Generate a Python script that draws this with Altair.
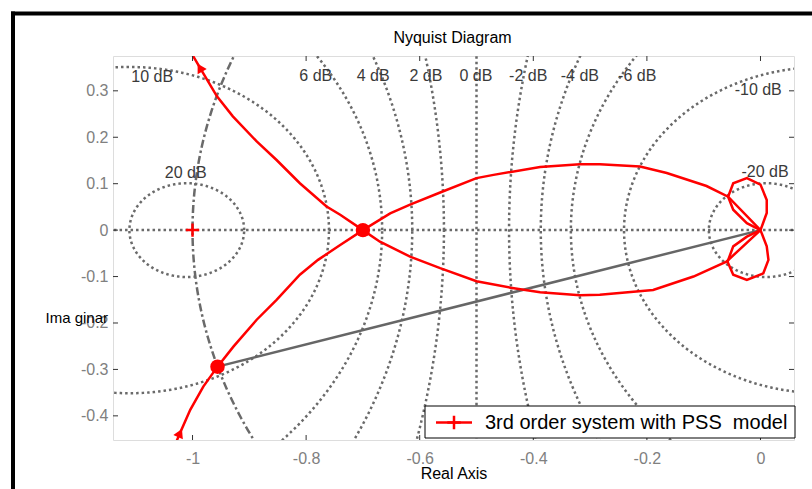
import altair as alt
import numpy as np
import pandas as pd

FONT = "Liberation Sans"

# ---- grid (M-circles) levels and their labels ----
grid_db = [20, 10, 6, 4, 2, 0, -2, -4, -6, -10, -20]
label_text = ["20 dB", "10 dB", "6 dB", "4 dB", "2 dB", "0 dB", "-2 dB", "-4 dB", "-6 dB", "-10 dB", "-20 dB"]
label_x = [-1.012, -1.071, -0.783, -0.682, -0.589, -0.501, -0.409, -0.318, -0.217, -0.004, 0.008]
label_y = [0.123, 0.330, 0.332, 0.332, 0.332, 0.332, 0.332, 0.332, 0.332, 0.302, 0.126]

# ---- Nyquist curve ----
# branch coming up from the bottom, through both dots, to the origin
up_x = [-1.030, -1.022, -1.004, -0.981, -0.956, -0.928, -0.887, -0.852, -0.811, -0.779, -0.740, -0.700,
        -0.652, -0.617, -0.564, -0.500, -0.470, -0.388, -0.318, -0.283, -0.212, -0.165, -0.095, -0.057, 0.0]
up_y = [-0.460, -0.437, -0.387, -0.337, -0.294, -0.251, -0.193, -0.150, -0.096, -0.064, -0.032, 0.000,
        0.036, 0.055, 0.081, 0.112, 0.119, 0.136, 0.142, 0.142, 0.137, 0.123, 0.095, 0.072, 0.0]
# branch from the top, through the -0.7 crossing, lower right, to the origin
dn_x = [-1.003, -0.999, -0.987, -0.957, -0.929, -0.887, -0.852, -0.811, -0.764, -0.740, -0.700,
        -0.670, -0.617, -0.564, -0.500, -0.440, -0.388, -0.318, -0.283, -0.189, -0.118, -0.060, 0.0]
dn_y = [0.385, 0.375, 0.350, 0.288, 0.245, 0.191, 0.151, 0.101, 0.051, 0.033, 0.000,
        -0.025, -0.057, -0.082, -0.110, -0.124, -0.134, -0.140, -0.139, -0.129, -0.100, -0.068, 0.0]
# small loops at the origin
loopu_x = [0.0, 0.011, 0.011, 0.0, -0.024, -0.048, -0.057, -0.048, -0.024, 0.0]
loopu_y = [0.0, 0.037, 0.065, 0.098, 0.112, 0.101, 0.072, 0.044, 0.015, 0.0]
loopd_x = [0.0, 0.011, 0.014, 0.005, -0.024, -0.048, -0.058, -0.048, -0.024, 0.0]
loopd_y = [0.0, -0.035, -0.064, -0.093, -0.107, -0.096, -0.068, -0.035, -0.014, 0.0]

# marked points
dots_x = [-0.700, -0.956]
dots_y = [0.000, -0.294]
ray_x = [-0.956, 0.0]
ray_y = [-0.294, 0.0]
crit_x = [-1.0]
crit_y = [0.0]
arrow_top = (-0.987, 0.350)
arrow_bot = (-1.022, -0.437)

xticks = [-1, -0.8, -0.6, -0.4, -0.2, 0]
yticks = [-0.4, -0.3, -0.2, -0.1, 0, 0.1, 0.2, 0.3]
legend_label = "3rd order system with PSS\u00a0 model"
title_text = "Nyquist Diagram"

# ---- build tables ----
rows = []
t = np.linspace(0, 2 * np.pi, 721)
for db in grid_db:
    if db == 0:
        for i, yy in enumerate([-2.0, 2.0]):
            rows.append({"db": db, "i": i, "x": -0.5, "y": yy})
    else:
        M = 10 ** (db / 20.0)
        c = -M * M / (M * M - 1)
        r = abs(M / (M * M - 1))
        for i, tt in enumerate(t):
            rows.append({"db": db, "i": i, "x": c + r * np.cos(tt), "y": r * np.sin(tt)})
circles = pd.DataFrame(rows)
realaxis = pd.DataFrame({"x": [-2.0, 1.0], "y": [0.0, 0.0], "i": [0, 1]})
unit = pd.DataFrame({"x": np.cos(t), "y": np.sin(t), "i": np.arange(len(t))})
labels = pd.DataFrame({"x": label_x, "y": label_y, "t": label_text})

seg_rows = []
for name, xs, ys in [("up", up_x, up_y), ("dn", dn_x, dn_y), ("lu", loopu_x, loopu_y), ("ld", loopd_x, loopd_y)]:
    for i, (a, b) in enumerate(zip(xs, ys)):
        seg_rows.append({"seg": name, "i": i, "x": a, "y": b})
curve = pd.DataFrame(seg_rows)

W, H = 681, 384
xs = alt.Scale(domain=[-1.14, 0.059], nice=False, zero=False)
ys = alt.Scale(domain=[-0.452, 0.375], nice=False, zero=False)

X = alt.X("x:Q", scale=xs, axis=alt.Axis(values=xticks, labelExpr="'' + datum.value", tickSize=0,
                                          labelPadding=10, labelFont=FONT, labelFontSize=16,
                                          labelColor="#808080", grid=False, domain=False,
                                          title="Real Axis", titleFont=FONT, titleFontSize=16,
                                          titleFontWeight="normal", titleColor="black",
                                          titleY=38, titleBaseline="alphabetic"))
Y = alt.Y("y:Q", scale=ys, axis=alt.Axis(values=yticks, labelExpr="'' + datum.value", tickSize=0,
                                          labelPadding=5, labelFont=FONT, labelFontSize=16,
                                          labelColor="#808080", grid=False, domain=False,
                                          title="Ima ginar", titleFont=FONT, titleFontSize=15,
                                          titleFontWeight="normal", titleColor="black", titleAngle=0,
                                          titleAlign="left", titleBaseline="middle", titleX=-68, titleY=261))

GRAY = "#6a6a6a"

circ = alt.Chart(circles).mark_line(color=GRAY, strokeWidth=2.5, strokeDash=[2.5, 3], clip=True).encode(
    x=X, y=Y, detail="db:N", order="i:Q")
rax = alt.Chart(realaxis).mark_line(color=GRAY, strokeWidth=2.5, strokeDash=[2.5, 3], clip=True).encode(
    x="x:Q", y="y:Q", order="i:Q")
uc = alt.Chart(unit).mark_line(color=GRAY, strokeWidth=2.5, strokeDash=[8, 3, 2.5, 3], clip=True).encode(
    x="x:Q", y="y:Q", order="i:Q")
lab = alt.Chart(labels).mark_text(font=FONT, fontSize=16, color="#3a3a3a", align="center",
                                  baseline="middle", clip=False).encode(x="x:Q", y="y:Q", text="t:N")

ray = alt.Chart(pd.DataFrame({"x": ray_x, "y": ray_y})).mark_line(color="#666666", strokeWidth=2.5).encode(
    x="x:Q", y="y:Q")
red = alt.Chart(curve).mark_line(color="#ff0000", strokeWidth=2.5, clip=True).encode(
    x="x:Q", y="y:Q", detail="seg:N", order="i:Q")
dots = alt.Chart(pd.DataFrame({"x": dots_x, "y": dots_y})).mark_point(
    shape="circle", filled=True, color="#ff0000", opacity=1, size=210).encode(x="x:Q", y="y:Q")
PLUS = "M-1,0L1,0M0,-1L0,1"
crit = alt.Chart(pd.DataFrame({"x": crit_x, "y": crit_y})).mark_point(
    shape=PLUS, filled=False, color="#ff0000", strokeWidth=2.5, opacity=1, size=180).encode(x="x:Q", y="y:Q")
arr1 = alt.Chart(pd.DataFrame({"x": [arrow_top[0]], "y": [arrow_top[1]]})).mark_point(
    shape="triangle-up", filled=True, color="#ff0000", opacity=1, size=110, angle=330).encode(x="x:Q", y="y:Q")
arr2 = alt.Chart(pd.DataFrame({"x": [arrow_bot[0]], "y": [arrow_bot[1]]})).mark_point(
    shape="triangle-up", filled=True, color="#ff0000", opacity=1, size=110, angle=25).encode(x="x:Q", y="y:Q")

# inward ticks on all four sides
tx = pd.DataFrame({"x": xticks})
ty = pd.DataFrame({"y": yticks})
TC = "#333333"
tb = alt.Chart(tx).mark_rule(color=TC, strokeWidth=1).encode(x="x:Q", y=alt.value(H), y2=alt.value(H - 5))
tt = alt.Chart(tx).mark_rule(color=TC, strokeWidth=1).encode(x="x:Q", y=alt.value(0), y2=alt.value(5))
tl = alt.Chart(ty).mark_rule(color=TC, strokeWidth=1).encode(y="y:Q", x=alt.value(0), x2=alt.value(5))
tr = alt.Chart(ty).mark_rule(color=TC, strokeWidth=1).encode(y="y:Q", x=alt.value(W), x2=alt.value(W - 5))

one = pd.DataFrame({"a": [0]})

# title
ttl = alt.Chart(one).mark_text(font=FONT, fontSize=16, color="black", align="center",
                               baseline="middle").encode(x=alt.value(339.5), y=alt.value(-18),
                                                         text=alt.value(title_text))

# legend box
leg_box = alt.Chart(one).mark_rect(fill="white", stroke="black", strokeWidth=1).encode(
    x=alt.value(312), x2=alt.value(682), y=alt.value(350), y2=alt.value(382))
leg_line = alt.Chart(one).mark_rule(color="#ff0000", strokeWidth=2.5).encode(
    x=alt.value(323), x2=alt.value(359), y=alt.value(366.5))
leg_plus = alt.Chart(one).mark_point(shape=PLUS, filled=False, color="#ff0000", strokeWidth=2.5,
                                     opacity=1, size=180).encode(x=alt.value(341), y=alt.value(366.5))
leg_text = alt.Chart(one).mark_text(font=FONT, fontSize=20, color="black", align="left",
                                    baseline="middle").encode(x=alt.value(372), y=alt.value(367),
                                                              text=alt.value(legend_label))

# black frame pieces (top and left) of the figure window
frame_top = alt.Chart(one).mark_rule(color="black", strokeWidth=4).encode(
    x=alt.value(-102), x2=alt.value(700), y=alt.value(-42.5))
frame_left = alt.Chart(one).mark_rule(color="black", strokeWidth=4).encode(
    x=alt.value(-100), y=alt.value(-44.5), y2=alt.value(440))

chart = alt.layer(
    circ, rax, uc, lab, ray, red, dots, crit, arr1, arr2,
    tb, tt, tl, tr, ttl, leg_box, leg_line, leg_plus, leg_text, frame_top, frame_left
).properties(
    width=W, height=H,
    autosize=alt.AutoSizeParams(type="none"),
    padding={"left": 113, "top": 56, "right": 18, "bottom": 49},
).configure_view(stroke="#808080", strokeWidth=1).configure(background="white")

chart.save("out.html", embed_options={"renderer": "svg", "actions": False})
